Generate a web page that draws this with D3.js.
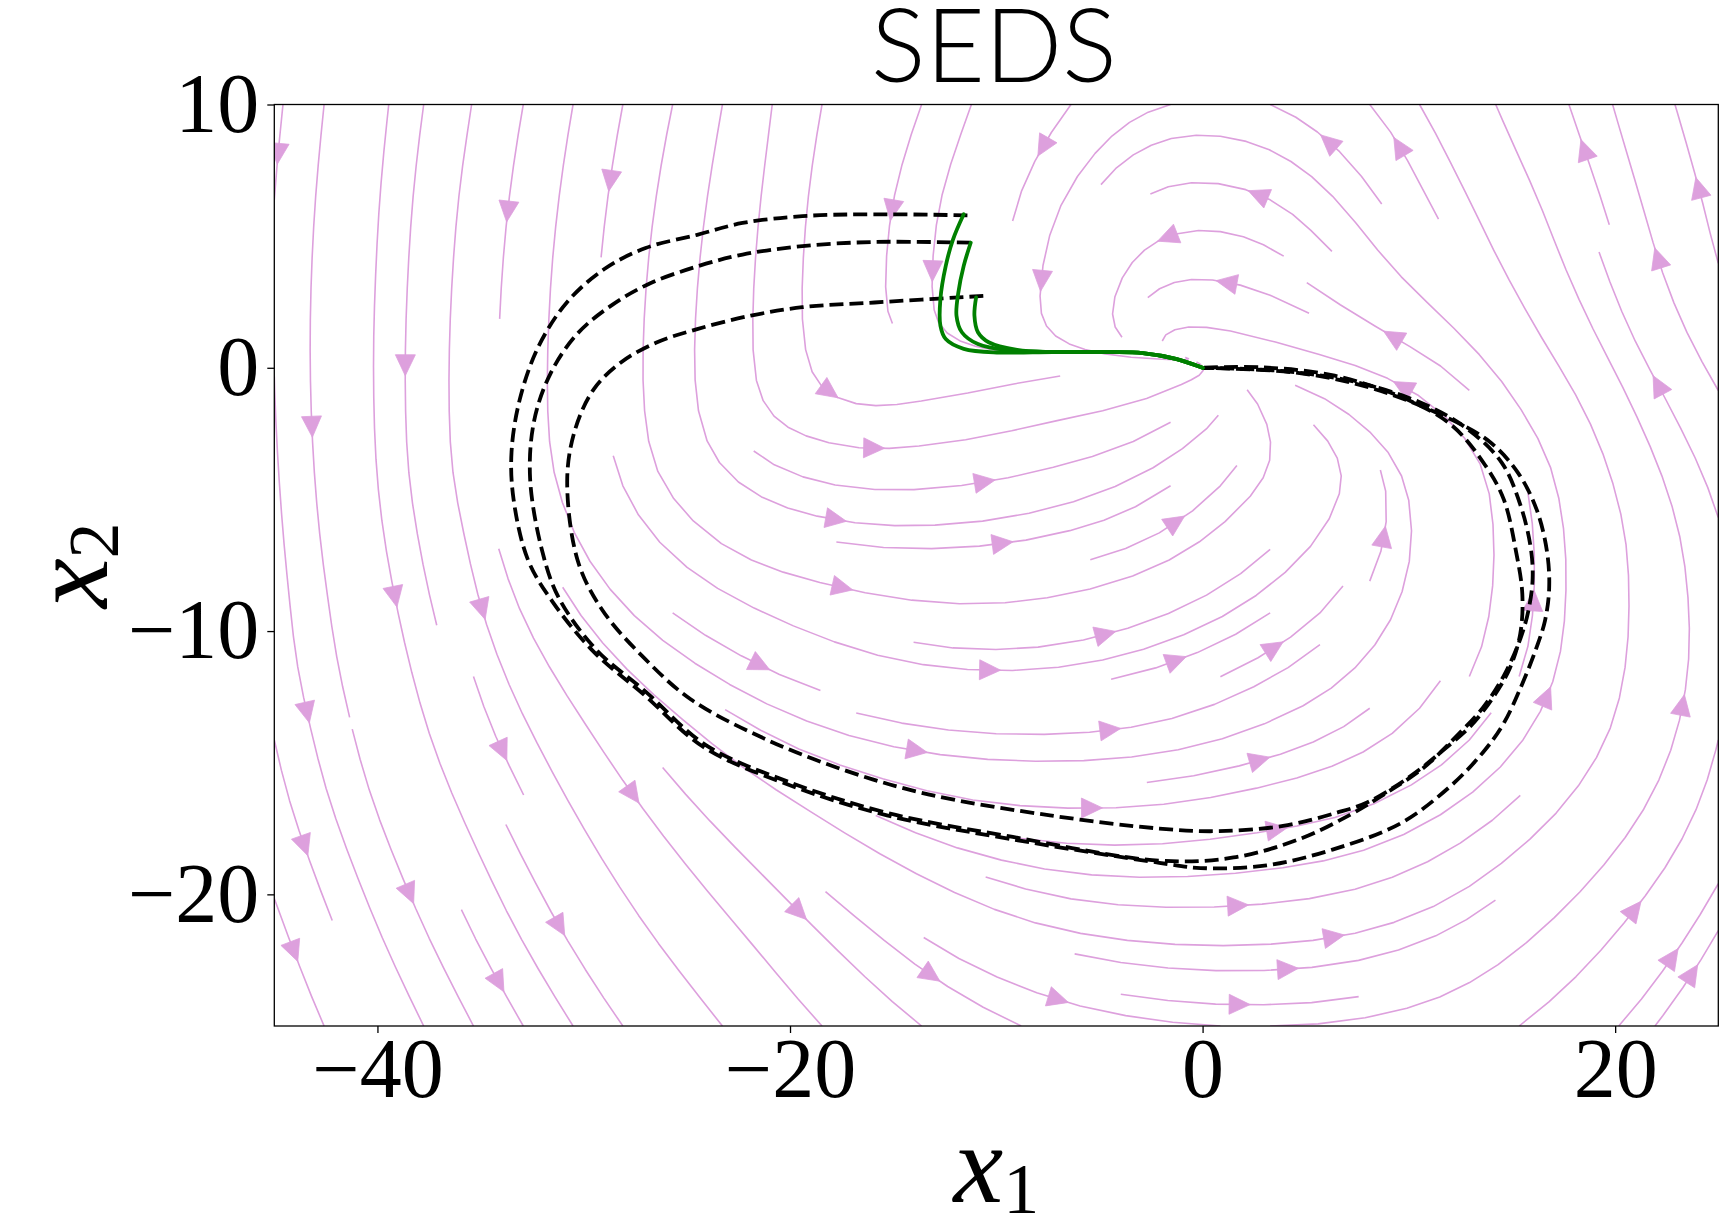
<!DOCTYPE html>
<html>
<head>
<meta charset="utf-8">
<script src="https://cdn.jsdelivr.net/npm/d3@7"></script>
<style>
  body { margin: 0; background: #fff; }
  svg { display: block; }
</style>
</head>
<body>
<div id="chart"></div>
<script>
// ---- data ----
const X_DOMAIN = [-45, 25];
const Y_DOMAIN = [-25, 10];
const X_TICKS = [-40, -20, 0, 20];
const Y_TICKS = [10, 0, -10, -20];

// flow direction, degrees (0 = right, 90 = up), null = attractor
const X_NODES = [-45, -40, -35, -30, -25, -20, -15, -10, -5, 0, 5, 10, 15, 20, 25];
const Y_NODES = [10, 7.5, 5, 2.5, 0, -2.5, -5, -7.5, -10, -12.5, -15, -17.5, -20, -22.5, -25];
const FLOW_ANGLE = [
  [-96, -96, -100, -100, -102, -96, -110, -110, -135, 180, 147, 121, 112, 106, 107],
  [-95, -95, -98, -98, -100, -96, -105, -110, -130, 178, 142, 117, 116, 107, 105],
  [-93, -93, -95, -96, -97, -94, -96, -97, -115, 180, 135, 121, 113, 107, 103],
  [-91, -92, -93, -93, -94, -91, -88, -88, -95, 175, 150, 140, 120, 112, 112],
  [-89, -90, -91, -91, -90, -85, 10, 12, 5, null, 170, 155, 125, 118, 120],
  [-87, -88, -88, -86, -80, -25, 5, 12, 15, 40, 130, 140, 122, 112, 120],
  [-86, -84, -78, -70, -50, -18, 0, 10, 20, 42, 55, 100, 97, 105, 110],
  [-85, -80, -77, -58, -38, -15, -3, 5, 15, 32, 45, 80, 90, 92, 100],
  [-85, -79, -73, -52, -33, -24, -15, 2, 15, 24, 38, 65, 82, 87, 92],
  [-78, -77, -71, -55, -35, -22, -10, -2, 8, 22, 30, 50, 62, 77, 82],
  [-77, -74, -66, -60, -47, -25, -12, -3, 3, 12, 18, 32, 48, 62, 75],
  [-72, -69, -65, -60, -50, -38, -25, -8, 0, 8, 10, 26, 40, 53, 68],
  [-70, -68, -65, -60, -52, -45, -33, -20, -5, 2, 8, 22, 40, 50, 60],
  [-70, -66, -62, -58, -52, -50, -40, -22, -10, -2, 5, 18, 38, 50, 60],
  [-68, -65, -62, -57, -52, -50, -42, -28, -12, -4, 3, 15, 36, 48, 58]
];

// demonstrations (black dashed)
const DEMO_A = [[-11.4,5.79],[-15.9,5.83],[-19.4,5.76],[-22.3,5.5],[-24.5,5.05],[-27.0,4.55],[-29.0,3.75],[-30.8,2.5],[-32.2,0.8],[-33.1,-1.2],[-33.5,-3.2],[-33.4,-5.0],[-32.7,-7.3],[-31.5,-8.9],[-29.5,-10.8],[-27.1,-12.4],[-24.2,-14.4],[-20.2,-15.8],[-15.3,-17.0],[-9.3,-17.9],[-2.1,-18.8],[-0.1,-19.0],[3.1,-18.9],[6.3,-18.3],[9.6,-17.3],[12.0,-15.9],[13.6,-14.6],[14.6,-13.5],[15.5,-12.0],[16.2,-10.6],[16.6,-9.6],[16.8,-8.4],[16.7,-7.0],[16.2,-5.4],[15.3,-4.0],[13.9,-2.8],[11.6,-1.8],[8.3,-0.8],[4.7,-0.2],[0,0]];
const DEMO_B = [[-11.24,4.75],[-15.9,4.78],[-19.4,4.62],[-22.3,4.3],[-24.5,3.85],[-26.8,3.2],[-28.6,2.4],[-30.3,1.3],[-31.6,-0.2],[-32.4,-2.0],[-32.6,-4.2],[-32.0,-7.0],[-31.2,-8.75],[-29.4,-10.7],[-27.0,-12.3],[-24.1,-14.32],[-20.1,-15.72],[-15.2,-16.92],[-9.2,-17.82],[-2.1,-18.72],[1.5,-18.6],[4.7,-17.9],[7.1,-17.0],[8.8,-16.2],[10.7,-15.2],[12.3,-14.0],[13.6,-12.9],[14.6,-11.7],[15.4,-10.3],[15.8,-9.2],[16.0,-8.0],[15.9,-6.8],[15.4,-5.2],[14.5,-3.6],[12.8,-2.3],[10.5,-1.3],[7.2,-0.5],[3.8,-0.12],[0,0]];
const DEMO_C = [[-10.63,2.73],[-15.9,2.48],[-19.4,2.3],[-21.9,1.98],[-24.5,1.47],[-26.5,0.95],[-28.2,0.2],[-29.5,-0.8],[-30.4,-2.3],[-30.8,-4.2],[-30.3,-7.3],[-29.1,-9.2],[-27.1,-11.0],[-24.8,-12.6],[-21.2,-14.1],[-17.3,-15.3],[-13.3,-16.2],[-7.4,-17.0],[-2.1,-17.5],[0.7,-17.6],[3.9,-17.4],[6.5,-16.9],[8.0,-16.5],[10.1,-15.5],[11.7,-14.5],[13.0,-13.6],[14.1,-12.5],[14.9,-11.4],[15.4,-10.1],[15.5,-8.6],[15.2,-7.0],[14.6,-5.0],[13.7,-3.7],[12.1,-2.2],[9.9,-1.2],[6.4,-0.3],[2.8,0.02],[0,0]];

// SEDS reproductions (green)
const REPRO_1 = [[-11.58,5.83],[-12.1,4.87],[-12.45,3.87],[-12.71,2.61],[-12.71,1.6],[-12.45,1.09],[-11.58,0.72],[-9.86,0.58],[-7.27,0.6],[-4.5,0.6],[-2.9,0.56],[-1.3,0.34],[0,0]];
const REPRO_2 = [[-11.24,4.75],[-11.58,3.87],[-11.84,2.86],[-11.93,1.98],[-11.67,1.35],[-10.89,0.9],[-9.34,0.66],[-7.27,0.6],[-4.5,0.6],[-2.9,0.56],[-1.3,0.34],[0,0]];
const REPRO_3 = [[-10.98,2.67],[-11.06,1.98],[-10.89,1.35],[-10.37,0.97],[-8.99,0.68],[-7.27,0.6],[-4.5,0.6],[-2.9,0.56],[-1.3,0.34],[0,0]];

// ---- layout ----
const W = 1728, H = 1228;
const M = { left: 274.3, right: 1718.3, top: 104.5, bottom: 1026 };
const plotW = M.right - M.left, plotH = M.bottom - M.top;
const SERIF = "'Liberation Serif', 'DejaVu Serif', serif";
const PLUM = "#dda0dd";

const x = d3.scaleLinear().domain(X_DOMAIN).range([M.left, M.right]);
const y = d3.scaleLinear().domain(Y_DOMAIN).range([M.bottom, M.top]);

const svg = d3.select("#chart").append("svg")
    .attr("width", W)
    .attr("height", H);

svg.append("defs").append("clipPath")
    .attr("id", "plot-clip")
  .append("rect")
    .attr("x", M.left).attr("y", M.top)
    .attr("width", plotW).attr("height", plotH);

// ---- vector field from the sampled directions ----
function cellIndex(nodes, v) {
    const asc = nodes[1] > nodes[0];
    for (let i = 0; i < nodes.length - 1; i++) {
        const a = nodes[i], b = nodes[i + 1];
        if ((asc && v <= b) || (!asc && v >= b)) return [i, (v - a) / (b - a)];
    }
    return [nodes.length - 2, 1];
}
function unitAt(r, c) {
    const a = FLOW_ANGLE[r][c];
    if (a === null) return [0, 0];
    const t = a * Math.PI / 180;
    return [Math.cos(t), Math.sin(t)];
}
function flowPx(xd, yd) {
    const [c, tx] = cellIndex(X_NODES, xd);
    const [r, ty] = cellIndex(Y_NODES, yd);
    const a = unitAt(r, c), b = unitAt(r, c + 1), d = unitAt(r + 1, c), e = unitAt(r + 1, c + 1);
    const w = [(1 - tx) * (1 - ty), tx * (1 - ty), (1 - tx) * ty, tx * ty];
    return [w[0] * a[0] + w[1] * b[0] + w[2] * d[0] + w[3] * e[0],
            w[0] * a[1] + w[1] * b[1] + w[2] * d[1] + w[3] * e[1]];
}
const xSpan = X_DOMAIN[1] - X_DOMAIN[0], ySpan = Y_DOMAIN[1] - Y_DOMAIN[0];
function axVel(xa, ya) {
    const v = flowPx(X_DOMAIN[0] + xa * xSpan, Y_DOMAIN[0] + ya * ySpan);
    return [v[0] / plotW, v[1] / plotH];
}

// ---- streamplot (same scheme as matplotlib, density 1) ----
const NM = 30;
const MINLEN = 0.1, MAXLEN = 4.0;
const mask = new Uint8Array(NM * NM);
let trajCells = [], curCell = null;
const OOB = {}, TERM = {}, INVALID = {};

function within(xa, ya) { return xa >= 0 && xa <= 1 && ya >= 0 && ya <= 1; }
function toMask(xa, ya) { return [Math.round(xa * (NM - 1)), Math.round(ya * (NM - 1))]; }
function markCell(xm, ym) {
    if (!curCell || curCell[0] !== xm || curCell[1] !== ym) {
        const k = ym * NM + xm;
        if (mask[k] === 0) {
            trajCells.push(k);
            mask[k] = 1;
            curCell = [xm, ym];
        } else {
            throw INVALID;
        }
    }
}
function updateTraj(xa, ya) {
    if (!within(xa, ya)) throw INVALID;
    const [xm, ym] = toMask(xa, ya);
    markCell(xm, ym);
}
function fdir(xa, ya, sgn) {
    if (!within(xa, ya)) throw OOB;
    const v = axVel(xa, ya);
    const s = Math.hypot(v[0], v[1]);
    if (s < 1e-12) throw TERM;
    return [sgn * v[0] / s, sgn * v[1] / s];
}
function eulerStep(pts, sgn) {
    const [xi, yi] = pts[pts.length - 1];
    let c;
    try { c = fdir(xi, yi, sgn); } catch (e) { return 0; }
    const dsx = c[0] === 0 ? Infinity : (c[0] < 0 ? xi / -c[0] : (1 - xi) / c[0]);
    const dsy = c[1] === 0 ? Infinity : (c[1] < 0 ? yi / -c[1] : (1 - yi) / c[1]);
    const ds = Math.min(dsx, dsy);
    pts.push([xi + c[0] * ds, yi + c[1] * ds]);
    return ds;
}
function rk12(x0, y0, sgn) {
    const maxerror = 0.003;
    const maxds = Math.min(1 / NM, 0.1);
    let ds = maxds, stotal = 0, xi = x0, yi = y0;
    const pts = [];
    for (let iter = 0; iter < 20000; iter++) {
        let k1, k2;
        try {
            if (within(xi, yi)) pts.push([xi, yi]); else throw OOB;
            k1 = fdir(xi, yi, sgn);
            k2 = fdir(xi + ds * k1[0], yi + ds * k1[1], sgn);
        } catch (e) {
            if (e === OOB && pts.length) stotal += eulerStep(pts, sgn);
            break;
        }
        const dx1 = ds * k1[0], dy1 = ds * k1[1];
        const dx2 = ds * 0.5 * (k1[0] + k2[0]), dy2 = ds * 0.5 * (k1[1] + k2[1]);
        const err = Math.hypot(dx2 - dx1, dy2 - dy1);
        if (err < maxerror) {
            xi += dx2;
            yi += dy2;
            try { updateTraj(xi, yi); } catch (e) { break; }
            if (stotal + ds > MAXLEN) break;
            stotal += ds;
        }
        ds = err === 0 ? maxds : Math.min(maxds, 0.85 * ds * Math.sqrt(maxerror / err));
    }
    return [stotal, pts];
}
function integrate(x0, y0) {
    trajCells = [];
    curCell = null;
    const [xm, ym] = toMask(x0, y0);
    try { markCell(xm, ym); } catch (e) { return null; }
    const [sb, back] = rk12(x0, y0, -1);
    curCell = [xm, ym];
    const [sf, fwd] = rk12(x0, y0, 1);
    if (sb + sf > MINLEN) return back.reverse().concat(fwd.slice(1));
    trajCells.forEach(k => { mask[k] = 0; });
    return null;
}
function* startPoints(n) {
    let xfirst = 0, yfirst = 1, xlast = n - 1, ylast = n - 1;
    let xs = 0, ys = 0, dir = "right";
    for (let i = 0; i < n * n; i++) {
        yield [xs, ys];
        if (dir === "right") {
            xs += 1;
            if (xs >= xlast) { xlast -= 1; dir = "up"; }
        } else if (dir === "up") {
            ys += 1;
            if (ys >= ylast) { ylast -= 1; dir = "left"; }
        } else if (dir === "left") {
            xs -= 1;
            if (xs <= xfirst) { xfirst += 1; dir = "down"; }
        } else {
            ys -= 1;
            if (ys <= yfirst) { yfirst += 1; dir = "right"; }
        }
    }
}

const streams = [];
for (const [xm, ym] of startPoints(NM)) {
    if (mask[ym * NM + xm] === 0) {
        const t = integrate(xm / (NM - 1), ym / (NM - 1));
        if (t) streams.push(t.map(p => [X_DOMAIN[0] + p[0] * xSpan, Y_DOMAIN[0] + p[1] * ySpan]));
    }
}

// ---- draw streamlines ----
const plot = svg.append("g").attr("clip-path", "url(#plot-clip)");
const straight = d3.line().x(d => x(d[0])).y(d => y(d[1]));

plot.append("g")
    .selectAll("path")
    .data(streams)
    .join("path")
    .attr("d", straight)
    .attr("fill", "none")
    .attr("stroke", PLUM)
    .attr("stroke-width", 1.6)
    .attr("stroke-linejoin", "round");

// one arrow head half way along each streamline
const ARROW_LEN = 21, ARROW_HALF = 10;
const arrows = streams.filter(t => t.length > 1).map(t => {
    let s = 0;
    const cum = [];
    for (let i = 1; i < t.length; i++) {
        s += Math.hypot(t[i][0] - t[i - 1][0], t[i][1] - t[i - 1][1]);
        cum.push(s);
    }
    let n = cum.findIndex(v => v >= s / 2);
    if (n < 0) n = 0;
    const tail = t[n];
    const next = t[Math.min(n + 1, t.length - 1)];
    const head = [(tail[0] + next[0]) / 2, (tail[1] + next[1]) / 2];
    return { tail, head };
});

plot.append("g")
    .selectAll("path")
    .data(arrows)
    .join("path")
    .attr("d", a => {
        const hx = x(a.head[0]), hy = y(a.head[1]);
        let dx = hx - x(a.tail[0]), dy = hy - y(a.tail[1]);
        const len = Math.hypot(dx, dy) || 1;
        dx /= len; dy /= len;
        const tipX = hx + dx * ARROW_LEN / 2, tipY = hy + dy * ARROW_LEN / 2;
        const bx = hx - dx * ARROW_LEN / 2, by = hy - dy * ARROW_LEN / 2;
        return `M${tipX},${tipY}L${bx - dy * ARROW_HALF},${by + dx * ARROW_HALF}L${bx + dy * ARROW_HALF},${by - dx * ARROW_HALF}Z`;
    })
    .attr("fill", PLUM)
    .attr("stroke", PLUM)
    .attr("stroke-width", 0.8);

// ---- demonstrations and reproductions ----
const smooth = d3.line().x(d => x(d[0])).y(d => y(d[1])).curve(d3.curveCatmullRom.alpha(0.5));

plot.append("g")
    .selectAll("path")
    .data([DEMO_A, DEMO_B, DEMO_C])
    .join("path")
    .attr("d", smooth)
    .attr("fill", "none")
    .attr("stroke", "#000")
    .attr("stroke-width", 3.8)
    .attr("stroke-dasharray", "14,6");

plot.append("g")
    .selectAll("path")
    .data([REPRO_1, REPRO_2, REPRO_3])
    .join("path")
    .attr("d", smooth)
    .attr("fill", "none")
    .attr("stroke", "#008000")
    .attr("stroke-width", 3.8)
    .attr("stroke-linecap", "round");

// ---- frame, axes ----
svg.append("rect")
    .attr("x", M.left).attr("y", M.top)
    .attr("width", plotW).attr("height", plotH)
    .attr("fill", "none")
    .attr("stroke", "#000")
    .attr("stroke-width", 1.3);

const gx = svg.append("g")
    .attr("transform", `translate(0,${M.bottom})`)
    .call(d3.axisBottom(x).tickValues(X_TICKS).tickSize(7).tickPadding(4).tickFormat(d3.format("d")));
const gy = svg.append("g")
    .attr("transform", `translate(${M.left},0)`)
    .call(d3.axisLeft(y).tickValues(Y_TICKS).tickSize(7).tickPadding(8).tickFormat(d3.format("d")));

[gx, gy].forEach(g => {
    g.select(".domain").remove();
    g.attr("font-family", null).attr("font-size", null);
    g.selectAll(".tick line").attr("stroke", "#000").attr("stroke-width", 1.3);
    g.selectAll(".tick text")
        .attr("fill", "#000")
        .style("font-family", SERIF)
        .style("font-size", "84px");
});

// title
svg.append("text")
    .attr("x", 994)
    .attr("y", 82)
    .attr("text-anchor", "middle")
    .style("font-family", "Lato, 'Open Sans', sans-serif")
    .style("font-weight", 300)
    .style("font-size", "102px")
    .attr("fill", "#000")
    .text("SEDS");

// axis labels x1 / x2
const xl = svg.append("text")
    .attr("x", (M.left + M.right) / 2)
    .attr("y", 1202)
    .attr("text-anchor", "middle")
    .style("font-family", SERIF)
    .style("font-size", "112px")
    .attr("fill", "#000");
xl.append("tspan").style("font-style", "italic").text("x");
xl.append("tspan").attr("dy", 11).style("font-size", "72px").text("1");

const yl = svg.append("text")
    .attr("transform", `translate(107,${(M.top + M.bottom) / 2}) rotate(-90)`)
    .attr("text-anchor", "middle")
    .style("font-family", SERIF)
    .style("font-size", "112px")
    .attr("fill", "#000");
yl.append("tspan").style("font-style", "italic").text("x");
yl.append("tspan").attr("dy", 11).style("font-size", "72px").text("2");
</script>
</body>
</html>
